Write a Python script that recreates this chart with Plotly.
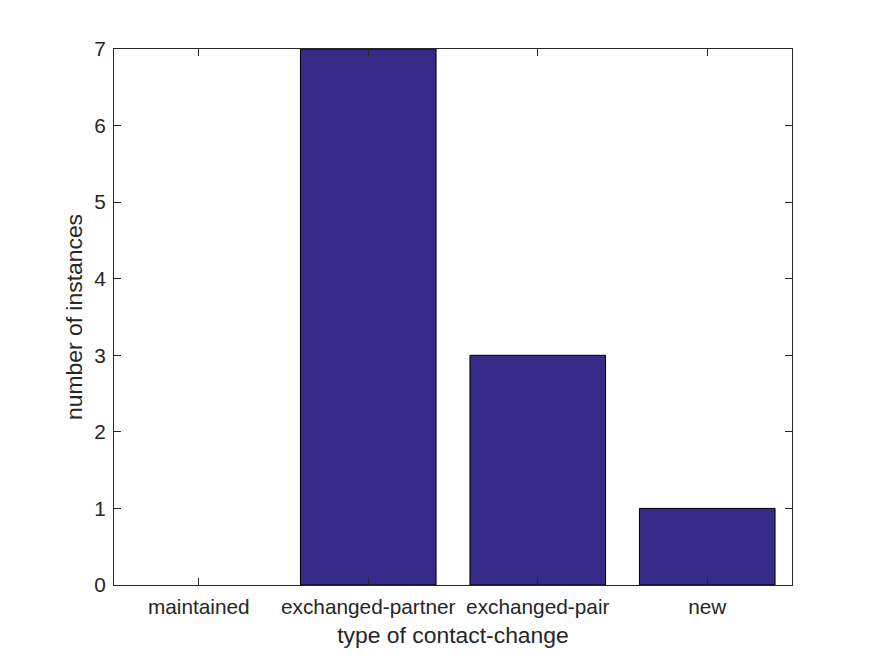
import plotly.graph_objects as go

categories = ["maintained", "exchanged-partner", "exchanged-pair", "new"]
counts = [0, 7, 3, 1]
y_ticks = [0, 1, 2, 3, 4, 5, 6, 7]

ink = "#262626"
font_family = "Liberation Sans, Arial, Helvetica, sans-serif"

fig = go.Figure(
    go.Bar(
        x=categories,
        y=counts,
        width=0.8,
        marker=dict(
            color="#352a87",
            line=dict(color="#000000", width=[1 if v > 0 else 0 for v in counts]),
        ),
    )
)

axis_common = dict(
    showline=True,
    linecolor=ink,
    linewidth=1,
    mirror="ticks",
    ticks="inside",
    ticklen=7,
    tickwidth=1,
    tickcolor=ink,
    showgrid=False,
    zeroline=False,
    tickfont=dict(family=font_family, size=20.8, color=ink),
)

fig.update_layout(
    width=875,
    height=656,
    margin=dict(l=106, r=91, t=41, b=79),
    paper_bgcolor="white",
    plot_bgcolor="white",
    showlegend=False,
    bargap=0.2,
    xaxis=dict(
        **axis_common,
        type="category",
        range=[-0.5, 3.5],
        ticklabelstandoff=3,
        title=dict(text="type of contact-change", standoff=10,
                   font=dict(family=font_family, size=22.9, color=ink)),
        automargin=False,
    ),
    yaxis=dict(
        **axis_common,
        range=[0, 7],
        tickvals=y_ticks,
        ticklabelstandoff=3,
        title=dict(text="number of instances", standoff=5,
                   font=dict(family=font_family, size=22.9, color=ink)),
        automargin=False,
    ),
)

fig.write_html("out.html")
